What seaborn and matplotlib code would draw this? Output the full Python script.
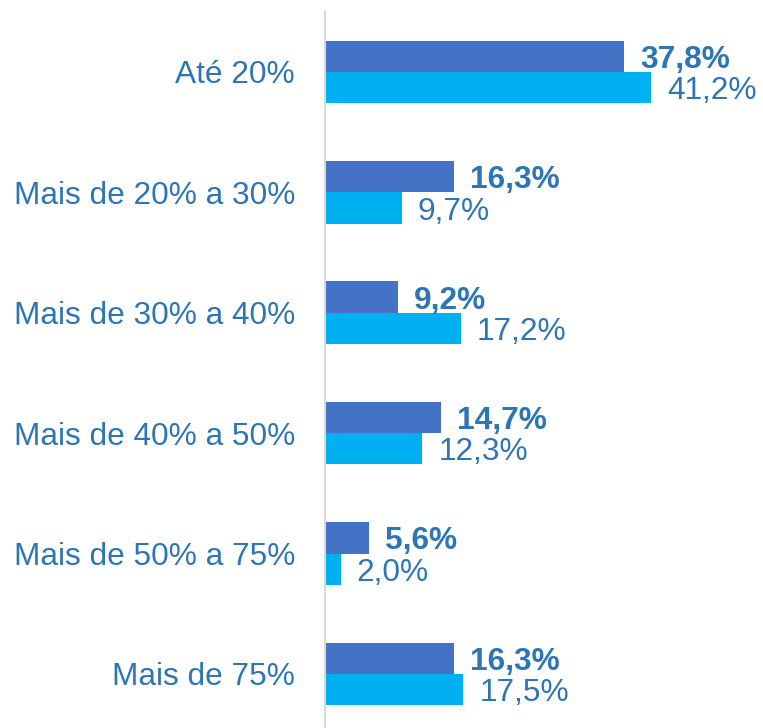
import pandas as pd
import matplotlib.pyplot as plt
import seaborn as sns

# faixas de comprometimento
categorias = ["Até 20%", "Mais de 20% a 30%", "Mais de 30% a 40%",
              "Mais de 40% a 50%", "Mais de 50% a 75%", "Mais de 75%"]
serie_1 = [37.8, 16.3, 9.2, 14.7, 5.6, 16.3]
serie_2 = [41.2, 9.7, 17.2, 12.3, 2.0, 17.5]
series = ["Série 1", "Série 2"]

df = pd.DataFrame({
    "categoria": categorias * 2,
    "valor": serie_1 + serie_2,
    "serie": [series[0]] * len(categorias) + [series[1]] * len(categorias),
})

sns.set_style("white")
plt.rcParams['font.family'] = ['Liberation Sans', 'DejaVu Sans']

azul_texto = "#2E75B6"
cores = {series[0]: "#4472C4", series[1]: "#00B0F0"}

fig = plt.figure(figsize=(7.63, 7.28), dpi=100)
ax = fig.add_axes([325 / 763, 0, 438 / 763, 716 / 728])

sns.barplot(data=df, y="categoria", x="valor", hue="serie", palette=cores,
            orient="h", width=0.52, saturation=1, linewidth=0,
            legend=False, ax=ax)

ax.set_xlim(0, 438 / 7.91)
ax.set_ylim(5.449, -0.498)

# rótulos de valor
for container, peso in zip(ax.containers, ["bold", "normal"]):
    for bar in container:
        w = bar.get_width()
        yc = bar.get_y() + bar.get_height() / 2
        ax.annotate(f"{w:.1f}%".replace(".", ","), xy=(w, yc),
                    xytext=(16 * 0.72, 0), textcoords="offset points",
                    ha="left", va="center_baseline", fontsize=22.8,
                    fontweight=peso, color=azul_texto)

ax.set_xlabel("")
ax.set_ylabel("")
ax.set_xticks([])
ax.tick_params(axis="y", length=0, pad=30 * 0.72, labelsize=22.8,
               labelcolor=azul_texto)
for s in ["top", "right", "bottom"]:
    ax.spines[s].set_visible(False)
ax.spines["left"].set_color("#D9D9D9")
ax.spines["left"].set_linewidth(1.5)

fig.savefig("out.png", dpi=100)
